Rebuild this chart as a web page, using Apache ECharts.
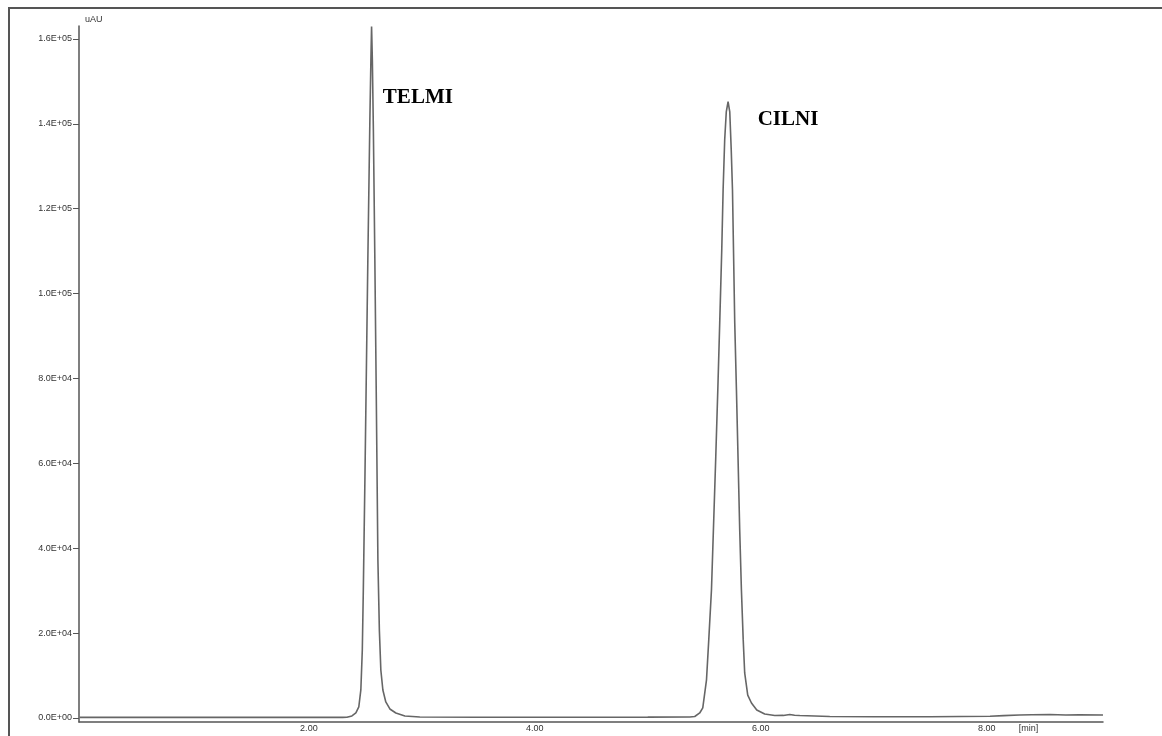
<!DOCTYPE html>
<html>
<head>
<meta charset="utf-8">
<script src="https://cdn.jsdelivr.net/npm/echarts@6.0.0/dist/echarts.min.js"></script>
<style>
html,body{margin:0;padding:0;background:#fff;}
#chart{width:1162px;height:736px;}
</style>
</head>
<body>
<div id="chart"></div>
<script>
// Retention time (min)
const timeMin = [
  -0.03, 0.5, 1.0, 1.5, 2.0, 2.3,
  2.336, 2.381, 2.416, 2.442, 2.460, 2.473, 2.482, 2.496, 2.509, 2.522, 2.540, 2.549, 2.555,
  2.562, 2.571, 2.584, 2.597, 2.611, 2.624, 2.637, 2.655, 2.681, 2.717, 2.770, 2.850, 2.982,
  3.5, 4.0, 4.5, 5.0,
  5.372, 5.416, 5.460, 5.487, 5.520, 5.540, 5.564, 5.584, 5.602, 5.620, 5.637, 5.655, 5.667,
  5.681, 5.695, 5.711, 5.726, 5.739, 5.750, 5.770, 5.785, 5.799, 5.814, 5.829, 5.845, 5.858,
  5.885, 5.918, 5.965, 6.035, 6.124,
  6.20, 6.257, 6.30, 6.345, 6.611, 7.0, 7.5, 8.03, 8.15, 8.29, 8.40, 8.56, 8.70, 8.82, 9.03
];
// Signal (uAU)
const signal = [
  150, 150, 150, 150, 150, 150,
  180, 470, 1180, 2600, 6600, 16000, 30200, 56100, 82000, 108000, 141000, 155000, 162900,
  155000, 138500, 108000, 75000, 37200, 20700, 11300, 6600, 3770, 2120, 1180, 470, 240,
  180, 180, 180, 200,
  240, 350, 1180, 2360, 9000, 18400, 30200, 46700, 61500, 77300, 93100, 110300, 124400,
  136200, 142800, 145200, 142800, 133800, 124400, 93100, 77300, 61500, 44300, 30200, 18400, 10600,
  5400, 3530, 1890, 940, 590,
  600, 820, 640, 590, 350, 300, 280, 420, 560, 700, 760, 820, 700, 720, 700
];
const peakNames = ['TELMI', 'CILNI'];
const peakLabelAt = [[2.655, 146100], [5.973, 141100]];

const yTickValues = [0, 20000, 40000, 60000, 80000, 100000, 120000, 140000, 160000];
const yTickLabels = ['0.0E+00', '2.0E+04', '4.0E+04', '6.0E+04', '8.0E+04', '1.0E+05', '1.2E+05', '1.4E+05', '1.6E+05'];
const xTickValues = [2, 4, 6, 8, 8.37];
const xTickLabels = ['2.00', '4.00', '6.00', '8.00', '[min]'];

const chart = echarts.init(document.getElementById('chart'), null, {renderer: 'canvas'});
const lookup = (vals, labels) => v => {
  for (let i = 0; i < vals.length; i++) if (Math.abs(vals[i] - v) < 1e-6) return labels[i];
  return '';
};
chart.setOption({
  backgroundColor: '#ffffff',
  animation: false,
  grid: {left: 79, right: 59, top: 26, bottom: 14, containLabel: false, outerBoundsMode: 'none'},
  xAxis: {
    type: 'value', min: -0.035, max: 9.03,
    axisLine: {show: true, onZero: false, lineStyle: {color: '#555', width: 1.5}},
    axisTick: {show: false},
    splitLine: {show: false},
    axisLabel: {
      customValues: xTickValues, formatter: lookup(xTickValues, xTickLabels),
      fontSize: 9, color: '#333', margin: 2, fontFamily: 'Liberation Sans'
    }
  },
  yAxis: {
    type: 'value', min: -950, max: 163050,
    name: 'uAU', nameLocation: 'end', nameGap: 6,
    nameTextStyle: {align: 'left', verticalAlign: 'middle', fontSize: 9, color: '#333', padding: [0, 0, 0, 6], fontFamily: 'Liberation Sans'},
    axisLine: {show: true, onZero: false, lineStyle: {color: '#555', width: 1.5}},
    axisTick: {show: true, length: 6, customValues: yTickValues, lineStyle: {color: '#555', width: 1}},
    splitLine: {show: false},
    axisLabel: {
      customValues: yTickValues, formatter: lookup(yTickValues, yTickLabels),
      fontSize: 9, color: '#333', margin: 7, fontFamily: 'Liberation Sans'
    }
  },
  graphic: [{
    type: 'rect', z: -1,
    shape: {x: 9, y: 8, width: 1400, height: 1000},
    style: {fill: 'none', stroke: '#555', lineWidth: 2}
  }],
  series: [{
    type: 'line',
    data: timeMin.map((t, i) => [t, signal[i]]),
    showSymbol: false,
    lineStyle: {color: '#666666', width: 1.6},
    markPoint: {
      symbol: 'circle', symbolSize: 0,
      label: {
        show: true, position: 'right', distance: 0,
        fontFamily: 'Liberation Serif', fontWeight: 'bold', fontSize: 21, color: '#000',
        formatter: p => p.name
      },
      data: peakNames.map((n, i) => ({name: n, coord: peakLabelAt[i]}))
    }
  }]
});
</script>
</body>
</html>
